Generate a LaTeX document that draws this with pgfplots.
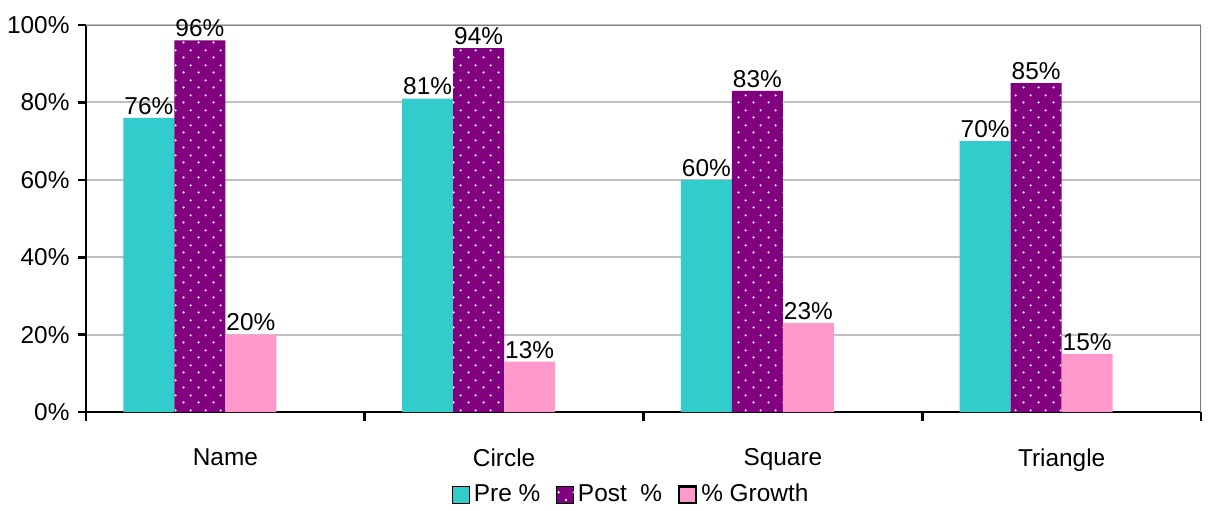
\documentclass[border=0pt]{standalone}
\usepackage{pgfplots}
\pgfplotsset{compat=1.18}
\usepackage{fontspec}
\setmainfont{Liberation Sans}
\usetikzlibrary{patterns}

\definecolor{preC}{HTML}{33CCCC}
\definecolor{postC}{HTML}{800080}
\definecolor{growC}{HTML}{FF99CC}
\definecolor{gridC}{HTML}{C0C0C0}
\definecolor{frameC}{HTML}{808080}

% white staggered dots on the purple bars
\pgfdeclarepatternformonly{wdots}{\pgfpointorigin}{\pgfqpoint{7.5pt}{7.5pt}}{\pgfqpoint{7.5pt}{7.5pt}}{%
  \pgfpathcircle{\pgfqpoint{1.9pt}{1.9pt}}{0.65pt}
  \pgfpathcircle{\pgfqpoint{5.65pt}{5.65pt}}{0.65pt}
  \pgfusepath{fill}}

\begin{document}
\fontsize{12.2}{14.6}\selectfont
\begin{tikzpicture}
\begin{axis}[
  scale only axis,
  width=557.5pt, height=193.5pt,
  xmin=-0.5, xmax=3.5,
  ymin=0, ymax=100,
  axis x line*=bottom,
  axis y line*=left,
  axis line style={line width=1.3pt, black, -},
  xtick={0,1,2,3},
  xticklabels={Name,Circle,Square,Triangle},
  major x tick style={draw=none},
  minor xtick={-0.5,0.5,1.5,2.5,3.5},
  minor x tick style={line width=1.3pt, black},
  minor tick length=4.5pt,
  xticklabel style={yshift=-10pt},
  ytick={0,20,40,60,80,100},
  yticklabels={0\%,20\%,40\%,60\%,80\%,100\%},
  major tick length=4pt,
  y tick style={line width=1.3pt, black},
  tick align=outside,
  ymajorgrids,
  major grid style={gridC, line width=1pt},
  ybar,
  bar width=0.183,
  nodes near coords={\pgfmathprintnumber[fixed,precision=0,assume math mode=true]{\pgfplotspointmeta}\%},
  every node near coord/.append style={font=\fontsize{12.2}{14.6}\selectfont, inner sep=1.5pt},
  legend columns=3,
  legend style={draw=none, at={(0.49,-0.214)}, anchor=center,
    /tikz/every even column/.append style={column sep=6pt},
    font=\fontsize{12.2}{14.6}\selectfont},
  legend image code/.code={\draw[#1] (0pt,-4.2pt) rectangle (8.4pt,4.2pt);},
]
\addplot[fill=preC, draw=none, bar shift=-0.2745, forget plot]
  coordinates {(0,76) (1,81) (2,60) (3,70)};
\addplot[fill=postC, draw=none, bar shift=-0.0915, forget plot,
  postaction={pattern=wdots, pattern color=white}]
  coordinates {(0,96) (1,94) (2,83) (3,85)};
\addplot[fill=growC, draw=none, bar shift=0.0915, forget plot]
  coordinates {(0,20) (1,13) (2,23) (3,15)};
\addlegendimage{fill=preC, draw=none}
\addlegendentry{Pre \%}
\addlegendimage{fill=postC, draw=none, postaction={pattern=wdots, pattern color=white}}
\addlegendentry{Post \ \%}
\addlegendimage{fill=growC, draw=black, line width=1.2pt}
\addlegendentry{\% Growth}
\draw[frameC, line width=1pt] (rel axis cs:0,1) -- (rel axis cs:1,1) -- (rel axis cs:1,0);
\end{axis}
\pgfresetboundingbox
\path (-43pt,-49pt) rectangle (561pt,206pt);
\end{tikzpicture}
\end{document}
